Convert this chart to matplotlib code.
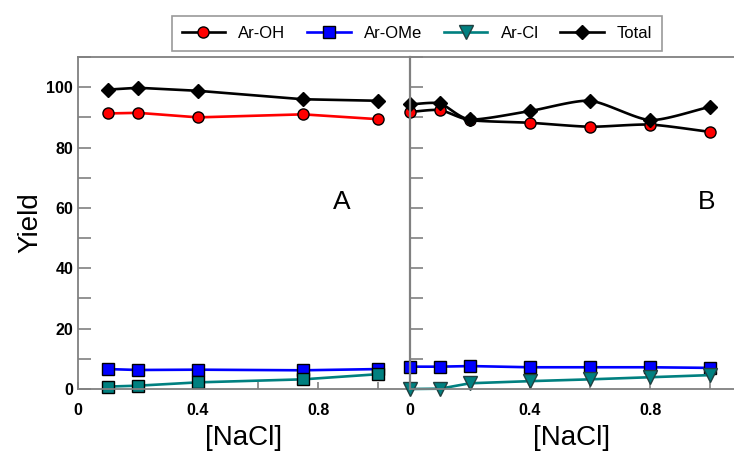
import numpy as np
import matplotlib
matplotlib.use("Agg")
import matplotlib.pyplot as plt
from matplotlib.ticker import MultipleLocator

plt.rcParams["font.family"] = ["Liberation Sans", "DejaVu Sans"]

# panel A data
xa = [0.1, 0.2, 0.4, 0.75, 1.0]
a_oh = [91.3, 91.5, 90.0, 91.0, 89.4]
a_ome = [6.6, 6.3, 6.4, 6.2, 6.6]
a_cl = [0.8, 1.1, 2.2, 3.2, 4.9]
a_total = [99.2, 99.8, 98.8, 96.0, 95.5]

# panel B data
xb = [0.0, 0.1, 0.2, 0.4, 0.6, 0.8, 1.0]
b_oh = [91.8, 92.4, 89.1, 88.2, 86.9, 87.6, 85.2]
b_ome = [7.4, 7.4, 7.6, 7.2, 7.2, 7.2, 7.0]
b_cl = [0.0, 0.1, 1.9, 2.6, 3.2, 3.9, 4.6]
b_total = [94.3, 94.6, 89.3, 92.1, 95.5, 89.1, 93.5]

TEAL = "#008080"
GRAY = "#808080"


def smooth(x, y, n=20, k=0.35):
    # cardinal (hermite) curve through the points, only used to draw the line
    x = np.asarray(x, float)
    y = np.asarray(y, float)
    t = np.linspace(0, 1, n)
    h00 = 2 * t**3 - 3 * t**2 + 1
    h10 = t**3 - 2 * t**2 + t
    h01 = -2 * t**3 + 3 * t**2
    h11 = t**3 - t**2
    mx = np.gradient(x) * 2 * k
    my = np.gradient(y) * 2 * k
    xs, ys = [], []
    for i in range(len(x) - 1):
        xs.extend(h00 * x[i] + h10 * mx[i] + h01 * x[i + 1] + h11 * mx[i + 1])
        ys.extend(h00 * y[i] + h10 * my[i] + h01 * y[i + 1] + h11 * my[i + 1])
    return xs, ys


fig = plt.figure(figsize=(7.34, 4.55), dpi=100)
W, H = 734, 455
axA = fig.add_axes([78 / W, 1 - 389 / H, 332 / W, 332 / H])
axB = fig.add_axes([410 / W, 1 - 389 / H, 324 / W, 332 / H])

lw = 1.9
ms = 8
# panel A
axA.plot(xa, a_oh, "-o", color="red", mfc="red", mec="black", lw=lw, ms=ms, clip_on=False)
axA.plot(xa, a_ome, "-s", color="blue", mfc="blue", mec="black", lw=lw, ms=ms, clip_on=False)
axA.plot(xa, a_cl, "-s", color=TEAL, mfc=TEAL, mec="black", lw=lw, ms=ms, clip_on=False)
axA.plot(xa, a_total, "-D", color="black", mfc="black", mec="black", lw=lw, ms=7.5, clip_on=False)

# panel B
sx, sy = smooth(xb, b_oh)
axB.plot(sx, sy, "-", color="black", lw=lw)
axB.plot(xb, b_oh, "o", mfc="red", mec="black", ms=ms, clip_on=False)
axB.plot(xb, b_ome, "-s", color="blue", mfc="blue", mec="black", lw=lw, ms=ms, clip_on=False)
axB.plot(xb, b_cl, "-v", color=TEAL, mfc=TEAL, mec="#204040", lw=lw, ms=9.5, clip_on=False)
sx, sy = smooth(xb, b_total)
axB.plot(sx, sy, "-", color="black", lw=lw)
axB.plot(xb, b_total, "D", mfc="black", mec="black", ms=7.5, clip_on=False)

for ax, xmax in ((axA, 332 / 300), (axB, 324 / 300)):
    ax.set_xlim(0, xmax)
    ax.set_ylim(0, 110)
    ax.xaxis.set_minor_locator(MultipleLocator(0.2))
    ax.yaxis.set_minor_locator(MultipleLocator(10))
    ax.tick_params(axis="both", which="both", direction="in", color=GRAY, width=1.2)
    ax.tick_params(axis="y", which="both", length=9)
    ax.tick_params(axis="x", which="both", length=5)
    ax.tick_params(axis="x", which="major", labelsize=11.5, pad=10)
    ax.tick_params(axis="y", labelsize=11.5)
    for s in ("left", "top", "bottom"):
        ax.spines[s].set_color(GRAY)
        ax.spines[s].set_linewidth(1.3)
    ax.spines["right"].set_visible(False)
    ax.set_xlabel("[NaCl]", fontsize=20, labelpad=5)
    ax.set_xticks([0, 0.4, 0.8])
    ax.set_xticklabels(["0", "0.4", "0.8"], fontweight="bold")

axA.set_yticks([0, 20, 40, 60, 80, 100])
axA.set_yticklabels(["0", "20", "40", "60", "80", "100"], fontweight="bold")
axB.tick_params(axis="y", labelleft=False)
axB.spines["left"].set_linewidth(1.6)
axA.set_ylabel("Yield", fontsize=20, labelpad=2)

axA.text(0.88, 62, "A", fontsize=19, ha="center", va="center")
axB.text(0.99, 62, "B", fontsize=19, ha="center", va="center")

# legend
handles = [
    plt.Line2D([], [], color="black", lw=lw, marker="o", mfc="red", mec="black", ms=ms),
    plt.Line2D([], [], color="blue", lw=lw, marker="s", mfc="blue", mec="black", ms=ms),
    plt.Line2D([], [], color=TEAL, lw=lw, marker="v", mfc=TEAL, mec="#204040", ms=9.5),
    plt.Line2D([], [], color="black", lw=lw, marker="D", mfc="black", mec="black", ms=7.5),
]
leg = fig.legend(handles, ["Ar-OH", "Ar-OMe", "Ar-Cl", "Total"], loc="center",
                 bbox_to_anchor=(417 / W, 1 - 33 / H), ncol=4, fontsize=12,
                 frameon=True, fancybox=False, edgecolor=GRAY, handlelength=2.6,
                 columnspacing=1.3, borderpad=0.6)
leg.get_frame().set_linewidth(1.2)

fig.savefig("out.png", dpi=100)
